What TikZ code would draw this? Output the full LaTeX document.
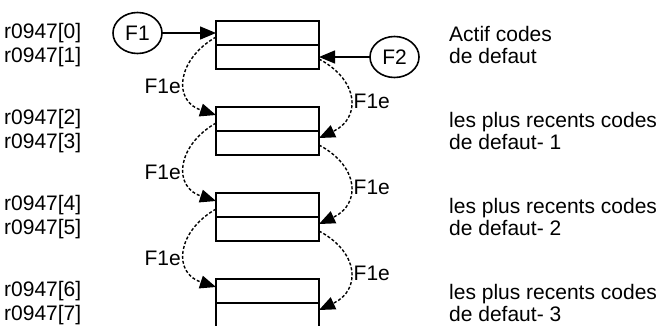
\documentclass[tikz,border=0pt]{standalone}
\usepackage{fontspec}
\setmainfont{Liberation Sans}
\usetikzlibrary{arrows.meta,positioning,shapes.geometric}

\begin{document}
\begin{tikzpicture}[
  x=1pt, y=-1pt, node distance=38pt,
  font=\fontsize{21}{22}\selectfont,
  cell/.style={draw, line width=1.6pt, minimum width=103pt, minimum height=24pt,
               inner sep=0pt, outer sep=0pt},
  term/.style={draw, line width=1.6pt, ellipse, minimum width=49pt,
               minimum height=41pt, inner sep=0pt, outer sep=0pt},
  reg/.style ={anchor=west, inner sep=0pt},
  txt/.style ={anchor=west, inner sep=0pt, align=left},
  lbl/.style ={inner sep=0pt},
  ar/.style  ={-{Triangle[length=16pt,width=13pt]}, line width=1.4pt},
  far/.style ={ar, dash pattern=on 3pt off 2pt, looseness=1.5},
]
  \clip (0,0) rectangle (660,325);
  \coordinate (lcol) at (4,0);
  \coordinate (rcol) at (449,0);

  % ---- pile des codes de defaut ----
  \node[cell] (b0) at (267.5,33) {};
  \node[cell, below=0pt of b0] (b1) {};
  \node[cell, below=of b1]     (b2) {};
  \node[cell, below=0pt of b2] (b3) {};
  \node[cell, below=of b3]     (b4) {};
  \node[cell, below=0pt of b4] (b5) {};
  \node[cell, below=of b5]     (b6) {};
  \node[cell, below=0pt of b6] (b7) {};

  % ---- parametres a gauche ----
  \node[reg] (r0) at (b0 -| lcol) {r0947[0]};
  \node[reg] (r1) at (b1 -| lcol) {r0947[1]};
  \node[reg] (r2) at (b2 -| lcol) {r0947[2]};
  \node[reg] (r3) at (b3 -| lcol) {r0947[3]};
  \node[reg] (r4) at (b4 -| lcol) {r0947[4]};
  \node[reg] (r5) at (b5 -| lcol) {r0947[5]};
  \node[reg] (r6) at (b6 -| lcol) {r0947[6]};
  \node[reg] (r7) at (b7 -| lcol) {r0947[7]};

  % ---- textes a droite ----
  \node[txt] (t0) at (b0.south -| rcol) {Actif codes\\de defaut};
  \node[txt] (t1) at (b2.south -| rcol) {les plus recents codes\\de defaut- 1};
  \node[txt] (t2) at (b4.south -| rcol) {les plus recents codes\\de defaut- 2};
  \node[txt] (t3) at (b6.south -| rcol) {les plus recents codes\\de defaut- 3};

  % ---- defauts entrants ----
  \node[term, left=54pt of b0]  (f1) {F1};
  \node[term, right=51pt of b1] (f2) {F2};
  \draw[ar] (f1) -- (b0);
  \draw[ar] (f2) -- (b1);

  % ---- decalage F1e ----
  \draw[far] ([yshift=-4pt]b0.west) to[out=210, in=162]
    node[lbl, pos=0.58, left=4pt] (e0) {F1e} ([yshift=4pt]b2.west);
  \draw[far] ([yshift=-4pt]b2.west) to[out=210, in=162]
    node[lbl, pos=0.58, left=4pt] (e1) {F1e} ([yshift=4pt]b4.west);
  \draw[far] ([yshift=-4pt]b4.west) to[out=210, in=162]
    node[lbl, pos=0.58, left=4pt] (e2) {F1e} ([yshift=4pt]b6.west);
  \draw[far] ([yshift=-2pt]b1.east) to[out=-28, in=25]
    node[lbl, pos=0.52, right=3pt] (e3) {F1e} ([yshift=5pt]b3.east);
  \draw[far] ([yshift=-2pt]b3.east) to[out=-28, in=25]
    node[lbl, pos=0.52, right=3pt] (e4) {F1e} ([yshift=5pt]b5.east);
  \draw[far] ([yshift=-2pt]b5.east) to[out=-28, in=25]
    node[lbl, pos=0.52, right=3pt] (e5) {F1e} ([yshift=5pt]b7.east);
\end{tikzpicture}
\end{document}
